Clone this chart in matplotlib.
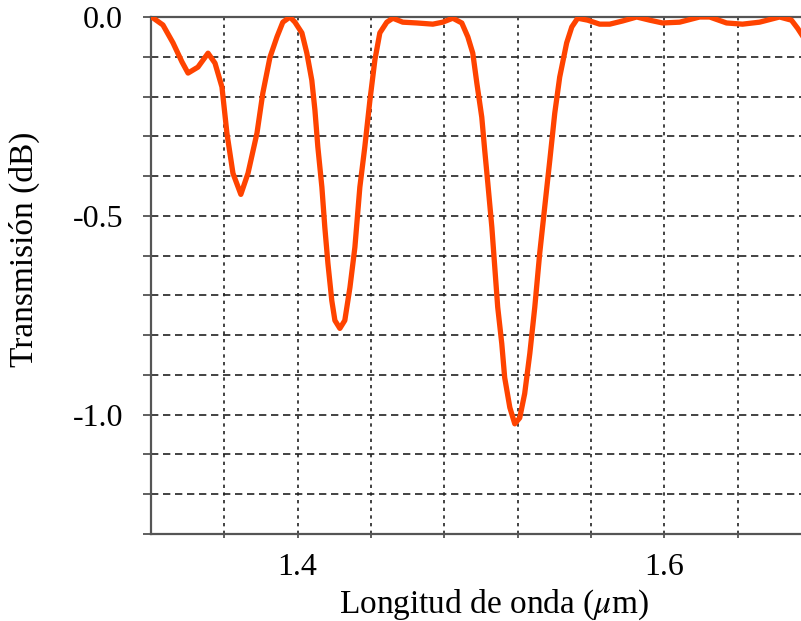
import matplotlib
matplotlib.use("Agg")
import matplotlib.pyplot as plt

# wavelength (um) and transmission (dB)
wavelength = [1.3204, 1.3265, 1.3320, 1.3369, 1.3402, 1.3456, 1.3511, 1.3549,
              1.3587, 1.3614, 1.3647, 1.3690, 1.3729, 1.3778, 1.3810, 1.3849,
              1.3887, 1.3919, 1.3958, 1.3985, 1.4023, 1.4050, 1.4077, 1.4094,
              1.4110, 1.4132, 1.4148, 1.4165, 1.4186, 1.4203, 1.4230, 1.4257,
              1.4285, 1.4312, 1.4339, 1.4366, 1.4394, 1.4421, 1.4448, 1.4486,
              1.4519, 1.4573, 1.4650, 1.4737, 1.4791, 1.4846, 1.4895, 1.4928,
              1.4955, 1.4977, 1.5004, 1.5020, 1.5037, 1.5059, 1.5075, 1.5091,
              1.5113, 1.5129, 1.5157, 1.5184, 1.5211, 1.5238, 1.5266, 1.5293,
              1.5320, 1.5347, 1.5375, 1.5402, 1.5429, 1.5467, 1.5495, 1.5527,
              1.5582, 1.5647, 1.5702, 1.5772, 1.5849, 1.5920, 1.5990, 1.6083,
              1.6192, 1.6247, 1.6339, 1.6426, 1.6519, 1.6628, 1.6693, 1.6726,
              1.6750]
transmission = [0.000, -0.020, -0.065, -0.113, -0.141, -0.126, -0.091, -0.116,
                -0.176, -0.292, -0.393, -0.446, -0.393, -0.292, -0.191, -0.101,
                -0.050, -0.013, 0.000, -0.013, -0.040, -0.091, -0.159, -0.234,
                -0.327, -0.428, -0.529, -0.620, -0.713, -0.763, -0.783, -0.763,
                -0.680, -0.579, -0.428, -0.327, -0.209, -0.108, -0.040, -0.013,
                -0.003, -0.013, -0.015, -0.018, -0.013, -0.003, -0.015, -0.050,
                -0.091, -0.166, -0.252, -0.335, -0.418, -0.529, -0.630, -0.730,
                -0.821, -0.907, -0.982, -1.023, -1.008, -0.947, -0.846, -0.730,
                -0.594, -0.479, -0.360, -0.242, -0.151, -0.065, -0.025, -0.003,
                -0.008, -0.018, -0.018, -0.010, 0.000, -0.008, -0.015, -0.013,
                0.000, 0.000, -0.015, -0.018, -0.013, 0.000, -0.008, -0.028,
                -0.045]

x_ticks = [1.36, 1.40, 1.44, 1.48, 1.52, 1.56, 1.60, 1.64]
x_tick_labels = ['', '1.4', '', '', '', '', '1.6', '']
y_ticks = [0.0, -0.1, -0.2, -0.3, -0.4, -0.5, -0.6, -0.7, -0.8, -0.9, -1.0,
           -1.1, -1.2, -1.3]
y_tick_labels = ['0.0', '', '', '', '', '-0.5', '', '', '', '', '-1.0', '', '', '']

plt.rcParams['font.family'] = ['Liberation Serif', 'DejaVu Serif']
plt.rcParams['mathtext.fontset'] = 'stix'

fig = plt.figure(figsize=(8.01, 6.21), dpi=100)
ax = fig.add_axes([151 / 801, 1 - 534 / 621, 650 / 801, 517 / 621])

ax.plot(wavelength, transmission, color='#ff4300', lw=3.8, zorder=3,
        solid_joinstyle='round')

ax.set_xlim(1.32, 1.6745)
ax.set_ylim(-1.3, 0.0)

ax.set_xticks(x_ticks)
ax.set_xticklabels(x_tick_labels, fontsize=23)
ax.set_yticks(y_ticks)
ax.set_yticklabels(y_tick_labels, fontsize=23)
ax.tick_params(axis='y', direction='out', length=6, width=1.2, pad=14,
               color='#444444')
ax.tick_params(axis='x', direction='out', length=3, width=1.2, pad=11,
               color='#444444')

for x in x_ticks:
    ax.axvline(x, color='#222222', lw=1.2, dashes=(2.0, 2.6), zorder=1)
for y in y_ticks[1:-1]:
    ax.axhline(y, color='#222222', lw=1.2, dashes=(4.4, 2.8), zorder=1)

for side in ['top', 'left', 'bottom']:
    ax.spines[side].set_color('#555555')
    ax.spines[side].set_linewidth(1.6)
ax.spines['right'].set_visible(False)

ax.set_xlabel('Longitud de onda ($\\mu$m)', fontsize=24, va='center')
ax.xaxis.set_label_coords(0.528, -0.137)
ax.set_ylabel('Transmisión (dB)', fontsize=24, va='center')
ax.yaxis.set_label_coords(-0.195, 0.55)

fig.savefig('out.png', dpi=100)
